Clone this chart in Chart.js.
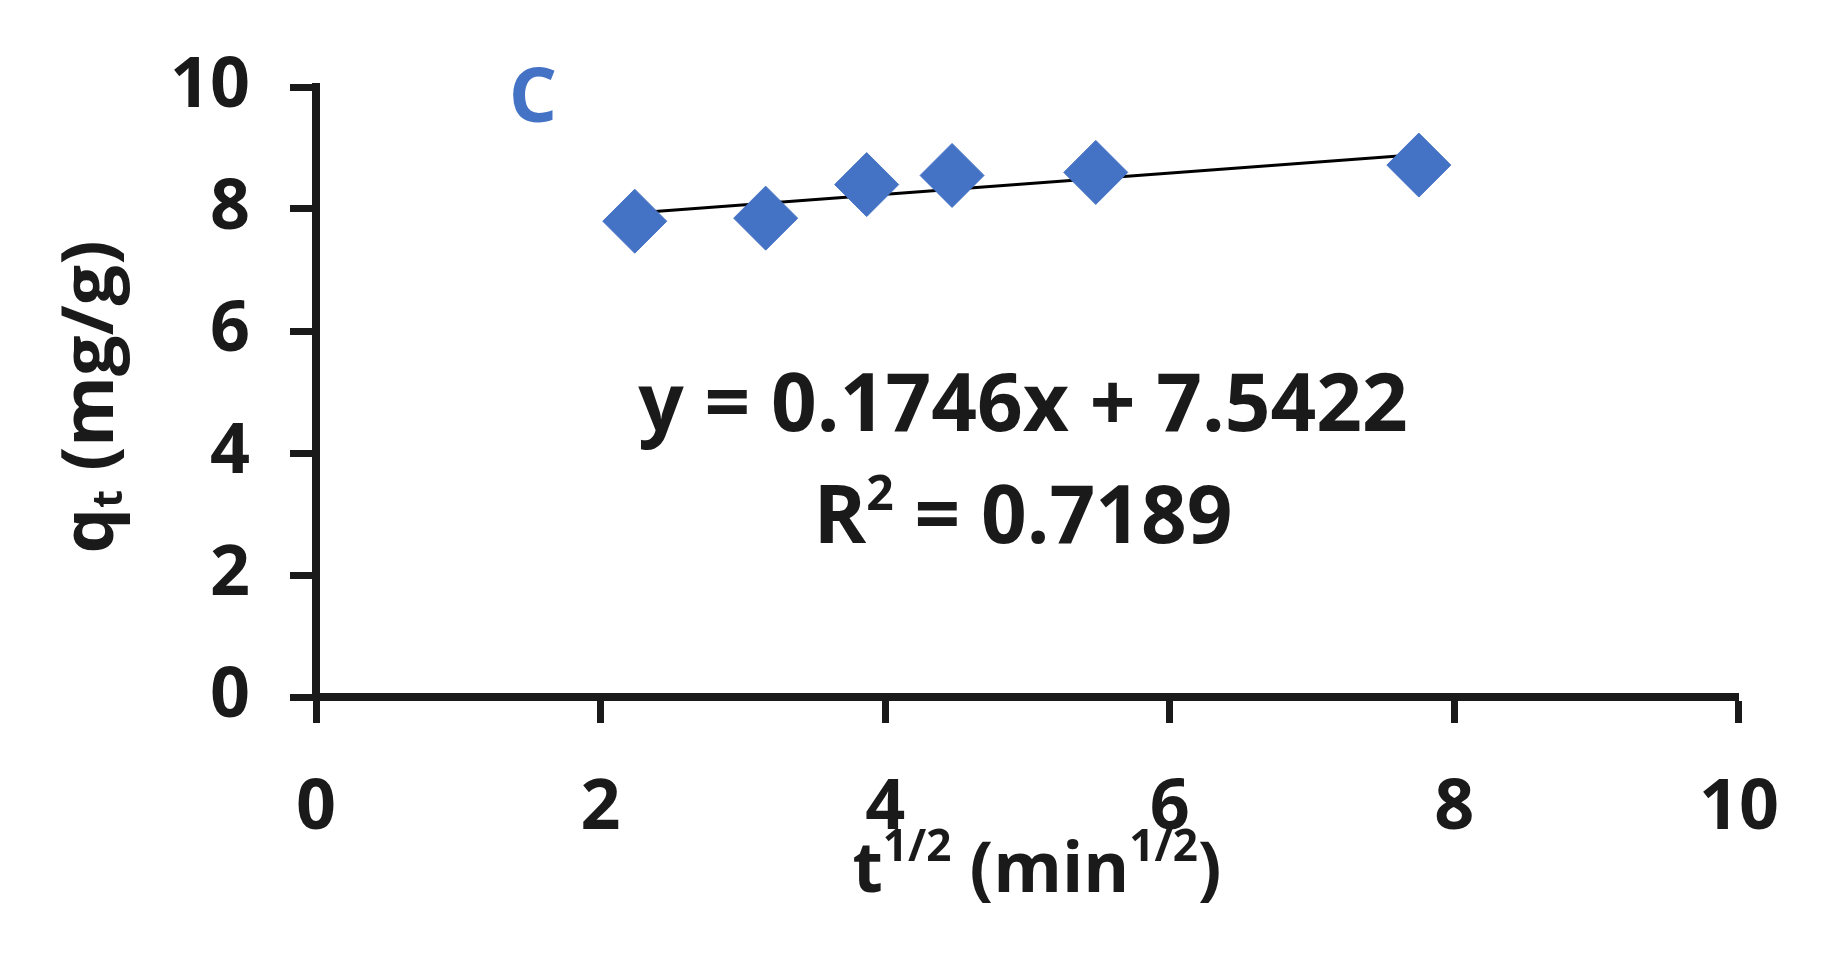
<!DOCTYPE html>
<html><head><meta charset="utf-8">
<script src="https://cdn.jsdelivr.net/npm/chart.js@4"></script>
<style>html,body{margin:0;background:#fff}#wrap{width:1823px;height:953px}</style>
</head><body><div id="wrap"><canvas id="myChart"></canvas></div>
<script>
const tHalf = [2.24, 3.16, 3.87, 4.47, 5.48, 7.75];
const qt = [7.8, 7.85, 8.4, 8.55, 8.6, 8.72];
const slope = 0.1746, intercept = 7.5422;
const eqText = 'y = 0.1746x + 7.5422';
const r2Text = ' = 0.7189';
const FONT = '"Open Sans", sans-serif';
const INK = '#1a1a1a';

const trend = [tHalf[0], tHalf[tHalf.length-1]].map(x => ({x: x, y: slope*x + intercept}));

const textPlugin = {
  id: 'texts',
  afterDraw(chart){
    const c = chart.ctx;
    c.save();
    c.fillStyle = '#4472C4';
    c.font = 'bold 76px ' + FONT;
    c.textAlign = 'center'; c.textBaseline = 'middle';
    c.fillText('C', 533, 100);
    c.fillStyle = INK;
    c.font = 'bold 80px ' + FONT;
    c.fillText(eqText, 1023, 408);
    c.textAlign = 'left';
    const w1 = c.measureText('R').width, w2 = c.measureText(r2Text).width;
    c.font = 'bold 48px ' + FONT;
    const ws = c.measureText('2').width;
    let x0 = 1023 - (w1 + ws + w2)/2;
    c.font = 'bold 80px ' + FONT;
    c.fillText('R', x0, 520);
    c.font = 'bold 48px ' + FONT;
    c.fillText('2', x0 + w1, 496);
    c.font = 'bold 80px ' + FONT;
    c.fillText(r2Text, x0 + w1 + ws, 520);
    // x title
    const parts = [['t',70,0],['1/2',44,-24],[' (min',70,0],['1/2',44,-24],[')',70,0]];
    let tot = 0;
    parts.forEach(p => { c.font = 'bold '+p[1]+'px '+FONT; tot += c.measureText(p[0]).width; });
    let xx = 1037 - tot/2;
    parts.forEach(p => { c.font = 'bold '+p[1]+'px '+FONT; c.fillText(p[0], xx, 872 + p[2]); xx += c.measureText(p[0]).width; });
    // y title
    c.translate(92, 397); c.rotate(-Math.PI/2);
    const yp = [['q',72,0],['t',42,18],[' (mg/g)',72,0]];
    tot = 0;
    yp.forEach(p => { c.font = 'bold '+p[1]+'px '+FONT; tot += c.measureText(p[0]).width; });
    xx = -tot/2;
    yp.forEach(p => { c.font = 'bold '+p[1]+'px '+FONT; c.fillText(p[0], xx, p[2]); xx += c.measureText(p[0]).width; });
    c.restore();
  }
};

new Chart('myChart', {
  type: 'scatter',
  data: {
    datasets: [
      {data: tHalf.map((x,i) => ({x: x, y: qt[i]})), pointStyle: 'rectRot', pointRadius: 32,
       pointBackgroundColor: '#4472C4', pointBorderColor: '#4472C4', showLine: false},
      {data: trend, showLine: true, borderColor: '#000', borderWidth: 3, pointRadius: 0}
    ]
  },
  options: {
    responsive: true, maintainAspectRatio: false, animation: false,
    layout: {padding: {top: 87, right: 64, left: 0, bottom: 0}},
    plugins: {legend: {display: false}, tooltip: {enabled: false}},
    scales: {
      x: {min: 0, max: 10, ticks: {stepSize: 2, color: INK, padding: 44, font: {family: FONT, weight: 'bold', size: 70}},
          grid: {drawOnChartArea: false, tickLength: 26, tickWidth: 7, color: INK},
          border: {width: 8, color: INK},
          afterFit(s){ s.height = 256; }},
      y: {min: 0, max: 10, ticks: {stepSize: 2, color: INK, padding: 40, font: {family: FONT, weight: 'bold', size: 70}},
          grid: {drawOnChartArea: false, tickLength: 26, tickWidth: 7, color: INK},
          border: {width: 8, color: INK},
          afterFit(s){ s.width = 316; }}
    }
  },
  plugins: [textPlugin]
});
</script></body></html>
